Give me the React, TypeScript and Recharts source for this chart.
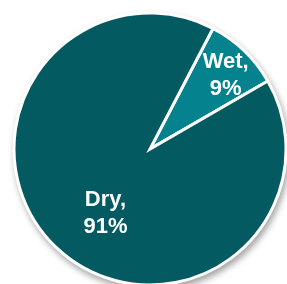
import { PieChart, Pie, Cell } from "recharts";

// slice data
const categories = ["Wet", "Dry"];
const shares = [9, 91];
const colors = ["#04828d", "#035a61"];

const data = categories.map((name, i) => ({ name, value: shares[i] }));

const RADIAN = Math.PI / 180;
// how far out each label sits, as a fraction of the radius
const labelRadius: Record<string, number> = { Wet: 0.79, Dry: 0.56 };
const labelTurn: Record<string, number> = { Wet: -1, Dry: 8 };

function renderLabel(props: any) {
  const { cx, cy, midAngle, outerRadius, name, value } = props;
  const r = outerRadius * (labelRadius[name] ?? 0.6);
  const a = (midAngle + (labelTurn[name] ?? 0)) * RADIAN;
  const x = cx + r * Math.cos(a);
  const y = cy - r * Math.sin(a);
  return (
    <text
      x={x}
      y={y}
      fill="#ffffff"
      textAnchor="middle"
      fontFamily="'Liberation Sans', Arial, sans-serif"
      fontWeight="bold"
      fontSize={22}
    >
      <tspan x={x} dy={-5}>{name},</tspan>
      <tspan x={x} dy={27}>{value}%</tspan>
    </text>
  );
}

export default function App() {
  return (
    <div
      style={{
        position: "absolute",
        left: 0,
        top: 0,
        width: 287,
        height: 284,
        background: "#fff",
        overflow: "hidden",
      }}
    >
      <div style={{ filter: "drop-shadow(2px 4px 3px rgba(0,0,0,0.35))" }}>
        <PieChart width={287} height={284} margin={{ top: 0, right: 0, bottom: 0, left: 0 }}>
          <Pie
            data={data}
            dataKey="value"
            nameKey="name"
            cx={150}
            cy={149}
            outerRadius={136}
            startAngle={30}
            endAngle={390}
            stroke="#ffffff"
            strokeWidth={3}
            label={renderLabel}
            labelLine={false}
            isAnimationActive={false}
          >
            {data.map((d, i) => (
              <Cell key={d.name} fill={colors[i]} />
            ))}
          </Pie>
        </PieChart>
      </div>
    </div>
  );
}
